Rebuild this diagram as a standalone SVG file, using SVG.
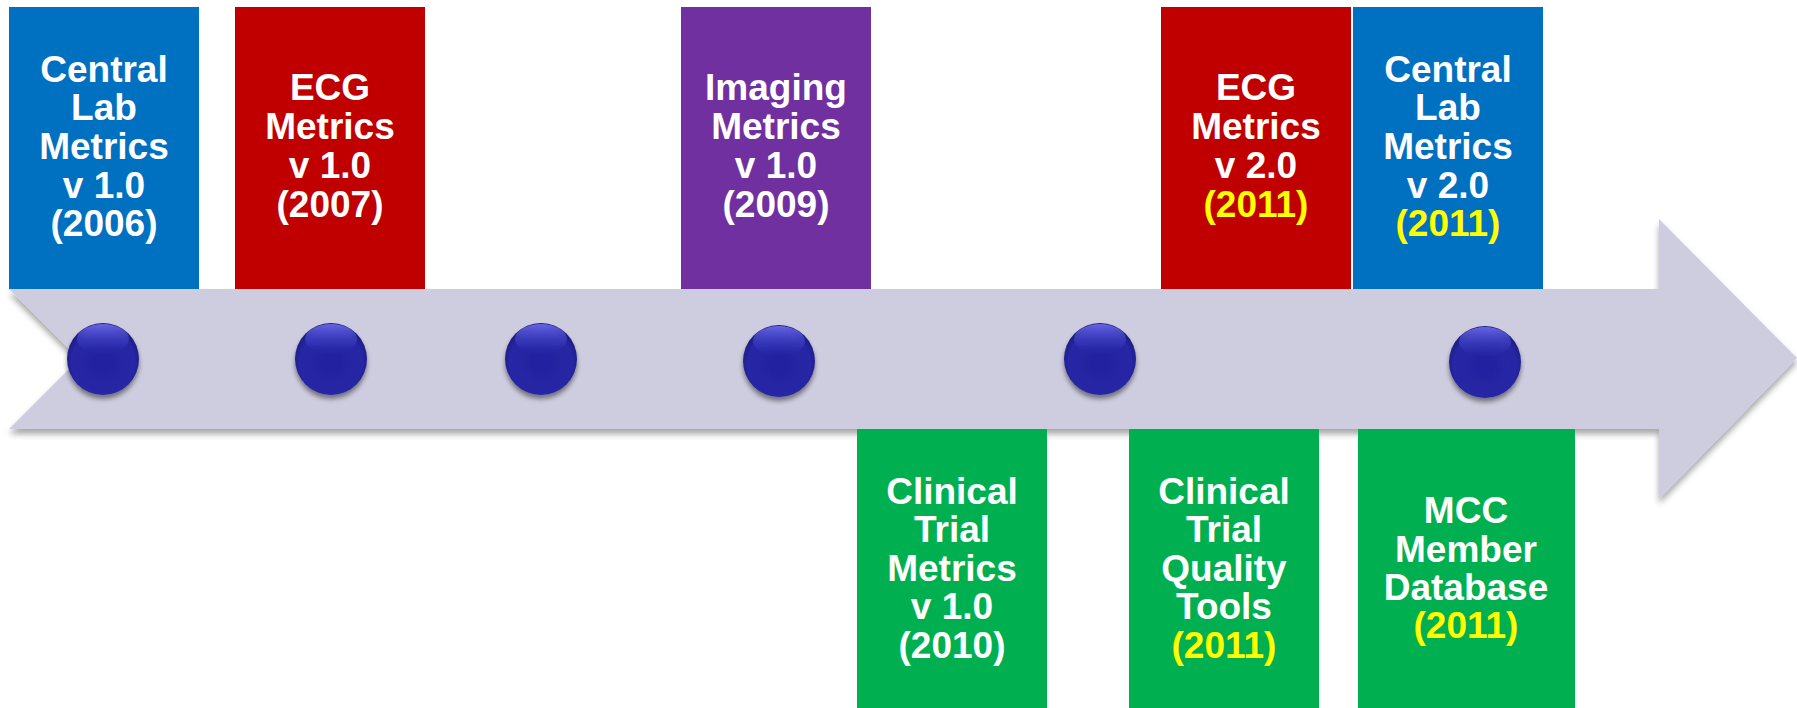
<svg xmlns="http://www.w3.org/2000/svg" width="1797" height="708" viewBox="0 0 1797 708">
<defs>
<style>
.t{font-family:"Liberation Sans",Arial,sans-serif;font-weight:bold;font-size:37px;fill:#FFFFFF;text-anchor:middle}
.y{fill:#FFFF00}
.blue{fill:#0070C0}.red{fill:#C00000}.purple{fill:#7030A0}.green{fill:#00B050}
</style>
<filter id="sh" x="-10%" y="-10%" width="120%" height="130%">
<feGaussianBlur in="SourceAlpha" stdDeviation="3"/>
<feOffset dx="0" dy="5" result="b"/>
<feComponentTransfer><feFuncA type="linear" slope="0.35"/></feComponentTransfer>
<feMerge><feMergeNode/><feMergeNode in="SourceGraphic"/></feMerge>
</filter>
<filter id="dsh" x="-30%" y="-30%" width="160%" height="170%">
<feGaussianBlur in="SourceAlpha" stdDeviation="2.5"/>
<feOffset dx="0" dy="4"/>
<feComponentTransfer><feFuncA type="linear" slope="0.45"/></feComponentTransfer>
<feMerge><feMergeNode/><feMergeNode in="SourceGraphic"/></feMerge>
</filter>
<radialGradient id="dg" cx="0.5" cy="0.55" r="0.55">
<stop offset="0" stop-color="#23239F"/>
<stop offset="0.8" stop-color="#2626A6"/>
<stop offset="1" stop-color="#1B1B78"/>
</radialGradient>
<linearGradient id="hl" x1="0" y1="0" x2="0" y2="1">
<stop offset="0" stop-color="#6F6FF0" stop-opacity="0.9"/>
<stop offset="1" stop-color="#3434C0" stop-opacity="0"/>
</linearGradient>
<g id="dot">
<circle r="36" fill="url(#dg)"/>
<ellipse cx="0" cy="-20" rx="26" ry="15" fill="url(#hl)"/>
</g>
</defs>
<rect width="1797" height="708" fill="#FFFFFF"/>

<g id="connectors">
<path id="arrow" d="M9,289 L1659,289 L1659,219 L1797,358 L1659,499 L1659,429 L9,429 L79,359 Z" fill="#CDCDDF" filter="url(#sh)"/>
</g>

<g id="dots">
<use href="#dot" x="103" y="359" filter="url(#dsh)"/>
<use href="#dot" x="331" y="359" filter="url(#dsh)"/>
<use href="#dot" x="541" y="359" filter="url(#dsh)"/>
<use href="#dot" x="779" y="361" filter="url(#dsh)"/>
<use href="#dot" x="1100" y="359" filter="url(#dsh)"/>
<use href="#dot" x="1485" y="362" filter="url(#dsh)"/>
</g>

<g id="central-lab-v1">
<rect class="blue" x="9" y="7" width="190" height="282"/>
<text class="t" x="104" y="82">Central</text>
<text class="t" x="104" y="120">Lab</text>
<text class="t" x="104" y="159">Metrics</text>
<text class="t" x="104" y="198">v 1.0</text>
<text class="t" x="104" y="236">(2006)</text>
</g>

<g id="ecg-v1">
<rect class="red" x="235" y="7" width="190" height="282"/>
<text class="t" x="330" y="100">ECG</text>
<text class="t" x="330" y="139">Metrics</text>
<text class="t" x="330" y="178">v 1.0</text>
<text class="t" x="330" y="217">(2007)</text>
</g>

<g id="imaging-v1">
<rect class="purple" x="681" y="7" width="190" height="282"/>
<text class="t" x="776" y="100">Imaging</text>
<text class="t" x="776" y="139">Metrics</text>
<text class="t" x="776" y="178">v 1.0</text>
<text class="t" x="776" y="217">(2009)</text>
</g>

<g id="ecg-v2">
<rect class="red" x="1161" y="7" width="190" height="282"/>
<text class="t" x="1256" y="100">ECG</text>
<text class="t" x="1256" y="139">Metrics</text>
<text class="t" x="1256" y="178">v 2.0</text>
<text class="t y" x="1256" y="217">(2011)</text>
</g>

<g id="central-lab-v2">
<rect class="blue" x="1353" y="7" width="190" height="282"/>
<text class="t" x="1448" y="82">Central</text>
<text class="t" x="1448" y="120">Lab</text>
<text class="t" x="1448" y="159">Metrics</text>
<text class="t" x="1448" y="198">v 2.0</text>
<text class="t y" x="1448" y="236">(2011)</text>
</g>

<g id="clinical-trial-v1">
<rect class="green" x="857" y="429" width="190" height="279"/>
<text class="t" x="952" y="504">Clinical</text>
<text class="t" x="952" y="542">Trial</text>
<text class="t" x="952" y="581">Metrics</text>
<text class="t" x="952" y="619">v 1.0</text>
<text class="t" x="952" y="658">(2010)</text>
</g>

<g id="clinical-trial-quality">
<rect class="green" x="1129" y="429" width="190" height="279"/>
<text class="t" x="1224" y="504">Clinical</text>
<text class="t" x="1224" y="542">Trial</text>
<text class="t" x="1224" y="581">Quality</text>
<text class="t" x="1224" y="619">Tools</text>
<text class="t y" x="1224" y="658">(2011)</text>
</g>

<g id="mcc-member-db">
<rect class="green" x="1358" y="429" width="217" height="279"/>
<text class="t" x="1466" y="523">MCC</text>
<text class="t" x="1466" y="562">Member</text>
<text class="t" x="1466" y="600">Database</text>
<text class="t y" x="1466" y="638">(2011)</text>
</g>
</svg>
